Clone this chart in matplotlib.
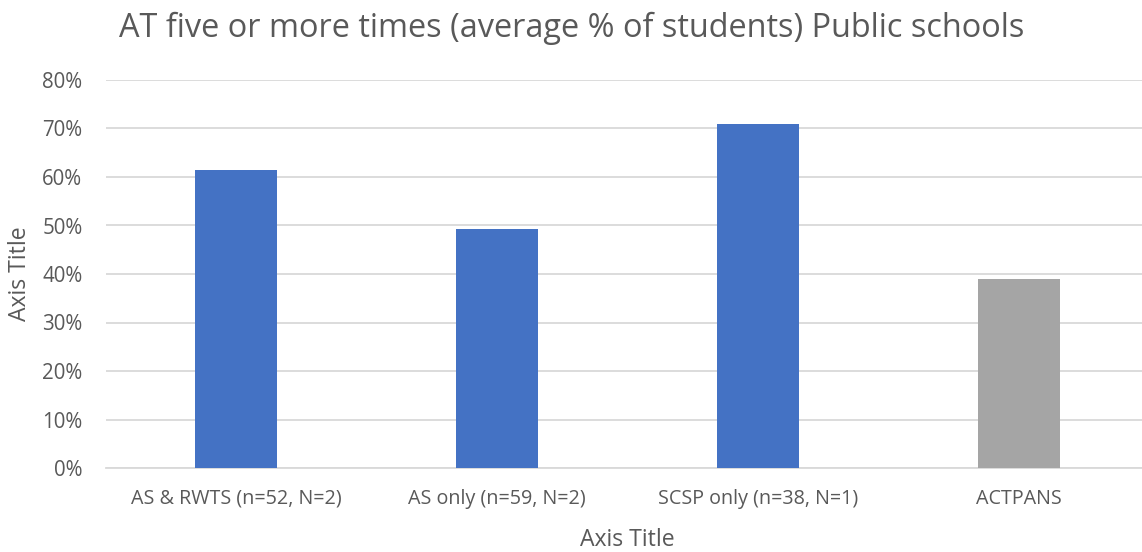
import matplotlib
matplotlib.use("Agg")
import matplotlib.pyplot as plt
from matplotlib.ticker import PercentFormatter

categories = ["AS & RWTS (n=52, N=2)", "AS only (n=59, N=2)", "SCSP only (n=38, N=1)", "ACTPANS"]
values = [61.4, 49.3, 70.9, 39.0]
bar_colors = ["#4472C4", "#4472C4", "#4472C4", "#A5A5A5"]
yticks = [0, 10, 20, 30, 40, 50, 60, 70, 80]

plt.rcParams["font.family"] = ["Open Sans", "DejaVu Sans"]
text_color = "#595959"

W, H = 1142, 552
fig = plt.figure(figsize=(W / 100, H / 100), dpi=100)
ax = fig.add_axes([106 / W, (H - 468) / H, (1149 - 106) / W, (468 - 80) / H])

x = range(len(categories))
ax.bar(x, values, width=0.315, color=bar_colors, zorder=3)

ax.set_xlim(-0.5, len(categories) - 0.5)
ax.set_ylim(0, 80)
ax.set_yticks(yticks)
ax.yaxis.set_major_formatter(PercentFormatter(decimals=0))
ax.set_xticks(list(x))
ax.set_xticklabels(categories)

ax.grid(axis="y", color="#D9D9D9", linewidth=1.3, zorder=0)
for side in ["top", "right", "left"]:
    ax.spines[side].set_visible(False)
ax.spines["bottom"].set_color("#D9D9D9")
ax.spines["bottom"].set_linewidth(1.3)
ax.tick_params(axis="both", length=0, colors=text_color)
ax.tick_params(axis="y", pad=17, labelsize=14.8)
ax.tick_params(axis="x", pad=15, labelsize=14.2)

ax.set_xlabel("Axis Title", color=text_color, fontsize=16.6, labelpad=14)
ax.set_ylabel("Axis Title", color=text_color, fontsize=16.6, labelpad=7)

fig.text(572 / W, 1 - 28 / H, "AT five or more times (average % of students) Public schools",
         ha="center", va="center", fontsize=23.4, color=text_color)

fig.savefig("out.png", dpi=100)
